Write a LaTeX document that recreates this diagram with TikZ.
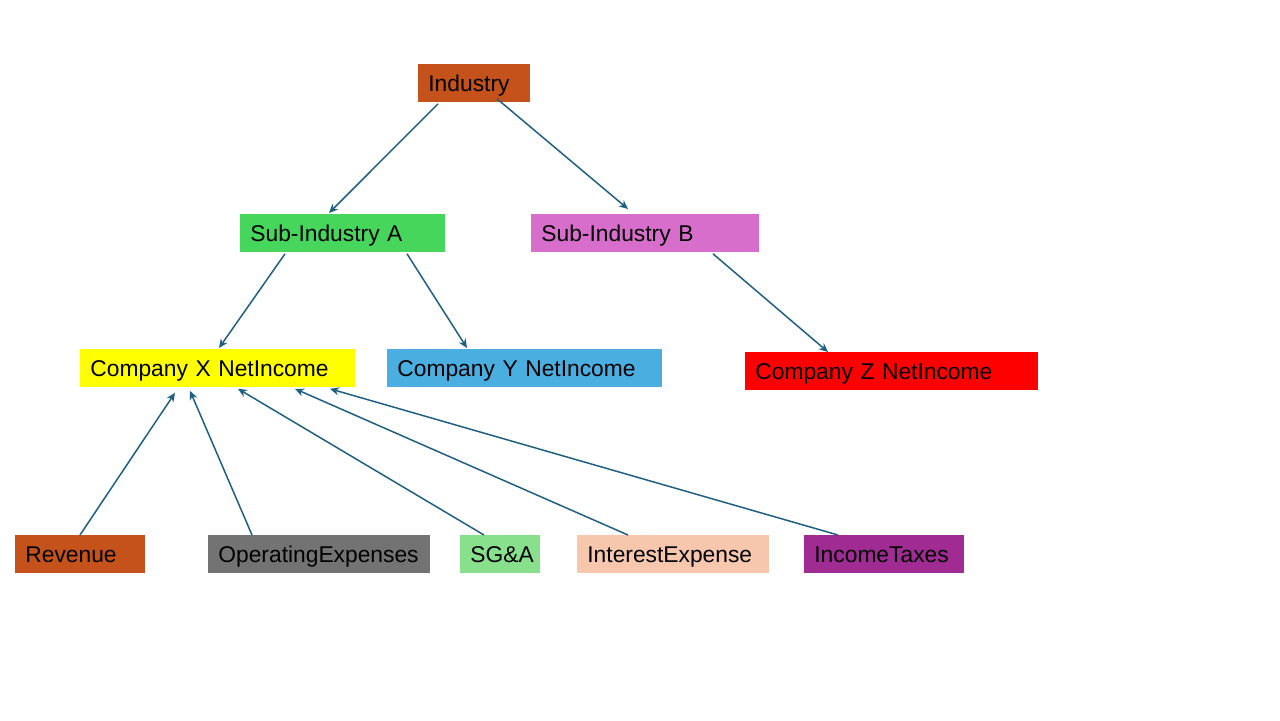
\documentclass[tikz,border=0pt]{standalone}
\usepackage{fontspec}
\setmainfont{Liberation Sans}
\usepackage{xcolor}
\usepackage{tikz}
\usetikzlibrary{arrows.meta,positioning,calc}
\definecolor{br}{HTML}{C4521A}
\definecolor{ga}{HTML}{47D65C}
\definecolor{gb}{HTML}{D86ECC}
\definecolor{cy}{HTML}{FFFF00}
\definecolor{cb}{HTML}{4AAEE0}
\definecolor{cr}{HTML}{FF0000}
\definecolor{gy}{HTML}{737373}
\definecolor{lg}{HTML}{88E08D}
\definecolor{pc}{HTML}{F6C6AD}
\definecolor{pu}{HTML}{A02B93}
\definecolor{ln}{HTML}{1F6082}
\tikzset{
  box/.style={anchor=north west, minimum height=19pt, inner xsep=5pt, inner ysep=0pt,
    text height=10pt, text depth=2pt,
    align=left, font=\fontsize{11.4}{13}\selectfont, text=black},
  link/.style={draw=ln, line width=0.75pt, -{Stealth[length=4.5pt,width=4pt]}}
}

\begin{document}
\begin{tikzpicture}[x=0.5pt,y=-0.5pt]
  \useasboundingbox (0,0) rectangle (1280,720);
  % levels
  \node[box, fill=br, text width=46pt] (ind) at (418,64) {Industry};
  \node[box, fill=ga, text width=92.5pt] (suba) at (240,214) {Sub-Industry A};
  \node[box, fill=gb, text width=104pt] (subb) at (531,214) {Sub-Industry B};
  \node[box, fill=cy, text width=127.5pt] (compx) at (80,349) {Company X NetIncome};
  \node[box, fill=cb, text width=127.5pt] (compy) at (387,349) {Company Y NetIncome};
  \node[box, fill=cr, text width=136.5pt] (compz) at (745,352) {Company Z NetIncome};
  % line items
  \node[box, fill=br, text width=55pt] (rev) at (15,535) {Revenue};
  \node[box, fill=gy, text width=101pt] (opex) at (208,535) {OperatingExpenses};
  \node[box, fill=lg, text width=30pt] (sga) at (460,535) {SG\&A};
  \node[box, fill=pc, text width=86pt] (intx) at (577,535) {InterestExpense};
  \node[box, fill=pu, text width=70pt] (tax) at (804,535) {IncomeTaxes};

  \draw[link] ($(ind.south west)+(20,1)$) -- ($(suba.north west)+(89,-1)$);
  \draw[link] ($(ind.south west)+(79,-4)$) -- ($(subb.north west)+(97,-5)$);
  \draw[link] ($(suba.south west)+(45,1)$) -- ($(compx.north west)+(139,-1)$);
  \draw[link] ($(suba.south west)+(167,1)$) -- ($(compy.north west)+(80,-1)$);
  \draw[link] ($(subb.south west)+(182,1)$) -- ($(compz.north west)+(83,0)$);

  \draw[link] ($(rev.north west)+(65,0)$) -- ($(compx.south west)+(95,5)$);
  \draw[link] ($(opex.north west)+(44,0)$) -- ($(compx.south west)+(110,3)$);
  \draw[link] ($(sga.north west)+(24,0)$) -- ($(compx.south west)+(158,1)$);
  \draw[link] ($(intx.north west)+(51,0)$) -- ($(compx.south west)+(215,1)$);
  \draw[link] ($(tax.north west)+(34,0)$) -- ($(compx.south west)+(250,1)$);
\end{tikzpicture}
\end{document}
